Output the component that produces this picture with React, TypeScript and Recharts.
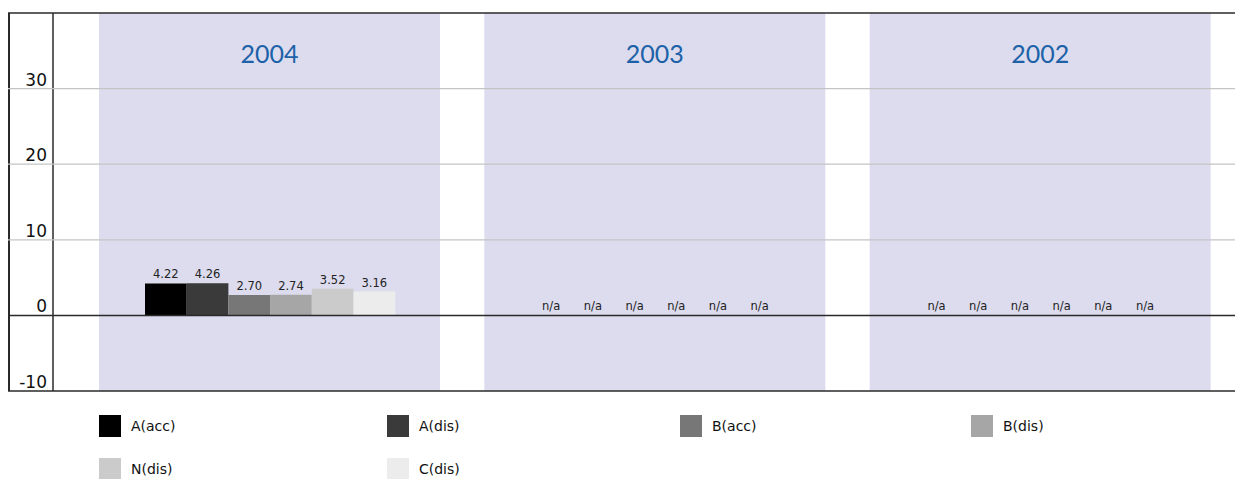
import React from 'react';
import { BarChart, Bar, XAxis, YAxis, LabelList, Legend } from 'recharts';

const years = ['2004', '2003', '2002'];
const aAcc: (number | null)[] = [4.22, null, null];
const aDis: (number | null)[] = [4.26, null, null];
const bAcc: (number | null)[] = [2.7, null, null];
const bDis: (number | null)[] = [2.74, null, null];
const nDis: (number | null)[] = [3.52, null, null];
const cDis: (number | null)[] = [3.16, null, null];

const seriesKeys = ['aAcc', 'aDis', 'bAcc', 'bDis', 'nDis', 'cDis'];
const seriesNames = ['A(acc)', 'A(dis)', 'B(acc)', 'B(dis)', 'N(dis)', 'C(dis)'];
const seriesValues = [aAcc, aDis, bAcc, bDis, nDis, cDis];
const seriesColors = ['#000000', '#3a3a3a', '#777777', '#a6a6a6', '#cbcbcb', '#ececec'];
const yTicks = [-10, 0, 10, 20, 30, 40];
const bandRange = [-10, 40];

const data = years.map((year, i) => {
  const row: any = { year, band: bandRange };
  seriesKeys.forEach((k, s) => {
    const v = seriesValues[s][i];
    row[k] = v == null ? 0 : v;
    row[k + '_label'] = v == null ? 'n/a' : v.toFixed(2);
  });
  return row;
});

const CHART_W = 1235;
const LEGEND_COLS = [91, 379, 672, 963];

const YTick = (props: any) => {
  const { x, y, payload } = props;
  const v = payload.value;
  const dark = v === 0 || v === 40 || v === -10;
  return (
    <g>
      <line x1={0} x2={CHART_W} y1={y} y2={y} stroke={dark ? '#2a2a2a' : '#c4c4c4'} strokeWidth={dark ? 1.5 : 1.2} />
      {v !== 40 && (
        <text x={x} y={y - 3} textAnchor="end" fontSize={17} fill="#111" fontFamily="DejaVu Sans">
          {v}
        </text>
      )}
    </g>
  );
};

const YearLabel = (props: any) => {
  const { x, y, width, value } = props;
  return (
    <text x={x + width / 2} y={y + 50} textAnchor="middle" fontSize={25} fill="#1d62a8" fontFamily="Lato">
      {value}
    </text>
  );
};

const renderLegend = (props: any) => {
  const payload = (props.payload || [])
    .filter((p: any) => p.type !== 'none' && seriesNames.indexOf(p.value) >= 0)
    .slice()
    .sort((a: any, b: any) => seriesNames.indexOf(a.value) - seriesNames.indexOf(b.value));
  return (
    <div style={{ position: 'relative', width: CHART_W, height: 79 }}>
      {payload.map((p: any, i: number) => {
        const col = i % 4;
        const row = Math.floor(i / 4);
        return (
          <div
            key={i}
            style={{
              position: 'absolute',
              left: LEGEND_COLS[col],
              top: 15 + row * 43,
              display: 'flex',
              alignItems: 'center',
              height: 22,
            }}
          >
            <div style={{ width: 22, height: 22, background: p.color }} />
            <span style={{ marginLeft: 10, fontSize: 14, fontFamily: 'DejaVu Sans', color: '#111' }}>{p.value}</span>
          </div>
        );
      })}
    </div>
  );
};

export default function App() {
  return (
    <div style={{ position: 'relative', width: CHART_W, height: 471, fontFamily: 'DejaVu Sans' }}>
      <div style={{ position: 'absolute', left: 0, top: 5, width: 1.5, height: 378, background: '#2a2a2a' }} />
      <BarChart
        width={CHART_W}
        height={471}
        data={data}
        margin={{ top: 5, right: 0, left: 0, bottom: 88 }}
        barGap={0}
      >
        <XAxis xAxisId="bg" dataKey="year" hide padding={{ left: 24, right: 10 }} />
        <XAxis xAxisId="main" dataKey="year" hide padding={{ left: 24, right: 10 }} />
        <Bar xAxisId="bg" dataKey="band" fill="#dcdcee" barSize={341} isAnimationActive={false} legendType="none">
          <LabelList dataKey="year" content={YearLabel} />
        </Bar>
        {seriesKeys.map((k, s) => (
          <Bar
            key={k}
            xAxisId="main"
            dataKey={k}
            name={seriesNames[s]}
            fill={seriesColors[s]}
            barSize={41.7}
            minPointSize={0.01}
            isAnimationActive={false}
          >
            <LabelList dataKey={k + '_label'} position="top" offset={5} fontSize={11.5} fill="#222" fontFamily="DejaVu Sans" />
          </Bar>
        ))}
        <YAxis
          domain={[-10, 40]}
          ticks={yTicks}
          width={45}
          tickSize={0}
          tickMargin={6}
          tick={YTick}
          axisLine={{ stroke: '#2a2a2a', strokeWidth: 1.5 }}
          tickLine={false}
          interval={0}
        />
        <Legend
          layout="horizontal"
          verticalAlign="middle"
          align="center"
          itemSorter={null as any}
          content={renderLegend}
          wrapperStyle={{ position: 'absolute', left: 0, top: 392, width: CHART_W, height: 79 }}
        />
      </BarChart>
    </div>
  );
}
